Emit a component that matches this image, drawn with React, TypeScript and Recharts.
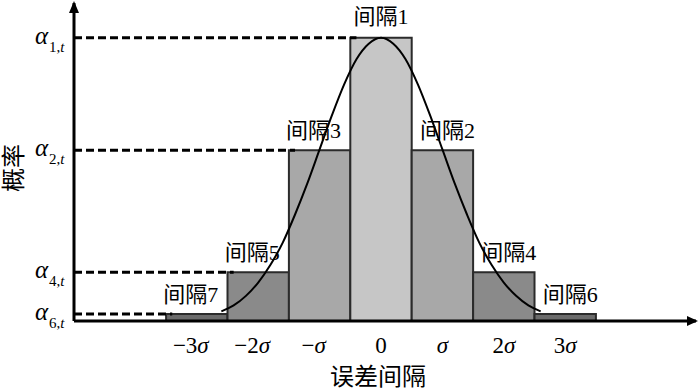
import {
  ComposedChart,
  Line,
  ReferenceArea,
  ReferenceDot,
  ReferenceLine,
  XAxis,
  YAxis,
} from 'recharts'

// error intervals, centred on multiples of sigma
const intervalNames = ['间隔7', '间隔5', '间隔3', '间隔1', '间隔2', '间隔4', '间隔6']
const intervalCenters = [-3, -2, -1, 0, 1, 2, 3]
const intervalProbs = [0.0095, 0.066, 0.231, 0.383, 0.231, 0.066, 0.0095]
const intervalFills = ['#6b6b6b', '#8a8a8a', '#a8a8a8', '#c6c6c6', '#a8a8a8', '#8a8a8a', '#6b6b6b']

// x tick labels
const xTicks = [-3, -2, -1, 0, 1, 2, 3]
const xTickLabels = ['−3σ', '−2σ', '−σ', '0', 'σ', '2σ', '3σ']

// alpha levels on the y axis
const yTicks = [0.383, 0.231, 0.066, 0.0095]
const yTickIndex = ['1', '2', '4', '6']
const yTickLineEnds = [-0.4, -1.4, -2.4, -3.4]

// normal curve
const curveX = [-2.6, -2.4, -2.2, -2, -1.8, -1.6, -1.4, -1.2, -1, -0.8, -0.6, -0.4, -0.2, 0, 0.2, 0.4, 0.6, 0.8, 1, 1.2, 1.4, 1.6, 1.8, 2, 2.2, 2.4, 2.6]
const curveP = [0.013, 0.021, 0.034, 0.052, 0.076, 0.106, 0.144, 0.186, 0.232, 0.278, 0.32, 0.354, 0.375, 0.383, 0.375, 0.354, 0.32, 0.278, 0.232, 0.186, 0.144, 0.106, 0.076, 0.052, 0.034, 0.021, 0.013]

const curveData = curveX.map((x, i) => ({ x, p: curveP[i] }))

const X_MIN = -5
const X_MAX = 5.13
const Y_MAX = 0.43
const AXIS_LEFT = 74

const serif = '"Times New Roman", "Liberation Serif", "Noto Sans CJK SC", serif'

function XTick({ x, y, payload }: any) {
  const i = xTicks.indexOf(payload.value)
  const label = xTickLabels[i] ?? ''
  const parts = label.split('σ')
  const hasSigma = label.includes('σ')
  const dx = payload.value < 0 ? -6 : 0
  return (
    <text x={x + dx} y={y + 24} textAnchor="middle" fontFamily={serif} fontSize={23} fill="#000">
      {parts[0]}
      {hasSigma && <tspan fontStyle="italic">σ</tspan>}
    </text>
  )
}

function YTick({ y, payload }: any) {
  const i = yTicks.indexOf(payload.value)
  return (
    <g>
      <text x={AXIS_LEFT - 26} y={y + 6} textAnchor="end" fontFamily={serif} fontStyle="italic" fontSize={25} fill="#000">
        α
      </text>
      <text x={AXIS_LEFT - 25} y={y + 14} fontFamily={serif} fontSize={15} fill="#000">
        {yTickIndex[i]},<tspan fontStyle="italic">t</tspan>
      </text>
    </g>
  )
}

function ArrowRight({ cx, cy }: any) {
  return <polygon points={`${cx + 2},${cy} ${cx - 9},${cy - 5} ${cx - 9},${cy + 5}`} fill="#000" />
}

function ArrowUp({ cx, cy }: any) {
  return <polygon points={`${cx},${cy - 2} ${cx - 5},${cy + 10} ${cx + 5},${cy + 10}`} fill="#000" />
}

const titleStyle = {
  position: 'absolute' as const,
  fontFamily: serif,
  fontSize: 24,
  lineHeight: 1,
  whiteSpace: 'nowrap' as const,
  color: '#000',
}

export default function App() {
  return (
    <div style={{ position: 'fixed', left: 0, top: 0, width: 700, height: 391, background: '#fff', overflow: 'hidden' }}>
      <ComposedChart
        width={700}
        height={391}
        data={curveData}
        margin={{ top: 3, right: 4, bottom: 0, left: 0 }}
      >
        <XAxis
          dataKey="x"
          type="number"
          domain={[X_MIN, X_MAX]}
          ticks={xTicks}
          tick={<XTick />}
          tickLine={false}
          axisLine={{ stroke: '#000', strokeWidth: 3 }}
          height={70}
          allowDataOverflow
        />
        <YAxis
          type="number"
          domain={[0, Y_MAX]}
          ticks={yTicks}
          tick={<YTick />}
          tickLine={false}
          axisLine={{ stroke: '#000', strokeWidth: 3 }}
          width={AXIS_LEFT}
          allowDataOverflow
        />

        {intervalCenters.map((c, i) => (
          <ReferenceArea
            key={intervalNames[i]}
            x1={c - 0.5}
            x2={c + 0.5}
            y1={0}
            y2={intervalProbs[i]}
            fill={intervalFills[i]}
            fillOpacity={1}
            stroke="#2b2b2b"
            strokeWidth={2}
            ifOverflow="visible"
            label={{
              value: intervalNames[i],
              position: 'top',
              offset: c === 0 ? 14 : 12,
              dx: c < 0 ? -6 : c > 0 ? 5 : 0,
              fill: '#000',
              fontSize: 22,
              fontFamily: serif,
            }}
          />
        ))}

        {yTicks.map((v, i) => (
          <ReferenceLine
            key={`dash-${i}`}
            segment={[
              { x: X_MIN, y: v },
              { x: yTickLineEnds[i], y: v },
            ]}
            stroke="#000"
            strokeWidth={3}
            strokeDasharray="8 4"
            ifOverflow="visible"
          />
        ))}

        <Line
          type="monotone"
          dataKey="p"
          stroke="#000"
          strokeWidth={2}
          dot={false}
          activeDot={false}
          isAnimationActive={false}
        />

        <ReferenceDot x={X_MAX} y={0} r={1} shape={<ArrowRight />} ifOverflow="visible" />
        <ReferenceDot x={X_MIN} y={Y_MAX} r={1} shape={<ArrowUp />} ifOverflow="visible" />
      </ComposedChart>

      <div style={{ ...titleStyle, left: 14, top: 168, transform: 'translate(-50%, -50%) rotate(-90deg)' }}>
        概率
      </div>
      <div style={{ ...titleStyle, left: 378, top: 377, transform: 'translate(-50%, -50%)' }}>
        误差间隔
      </div>
    </div>
  )
}
